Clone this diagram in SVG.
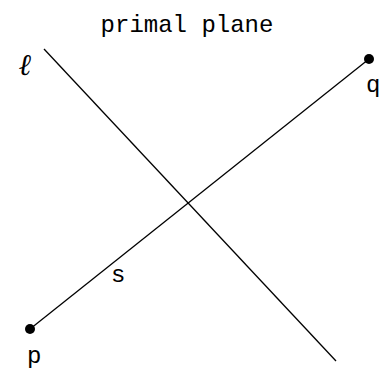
<svg xmlns="http://www.w3.org/2000/svg" width="379" height="369" viewBox="0 0 379 369">
<style>
.lbl{font-family:"Liberation Mono","DejaVu Sans Mono",monospace;font-size:24px;fill:#000}
.ln{stroke:#000;stroke-width:1.3;fill:none}
</style>
<rect width="379" height="369" fill="#fff"/>
<text class="lbl" x="187" y="32" text-anchor="middle" font-size="25">primal plane</text>
<g id="connectors">
<line class="ln" x1="44" y1="49" x2="336" y2="361"/>
<line class="ln" x1="30" y1="329" x2="369" y2="59"/>
</g>
<g id="line-l"><text x="19" y="75" font-family="'DejaVu Serif','Liberation Serif',serif" font-style="italic" font-weight="bold" font-size="30">ℓ</text></g>
<g id="p"><circle cx="30" cy="329" r="5"/><text class="lbl" x="27" y="363">p</text></g>
<g id="q"><circle cx="369" cy="59" r="5"/><text class="lbl" x="366" y="92">q</text></g>
<g id="s"><text class="lbl" x="111" y="282">s</text></g>
</svg>
